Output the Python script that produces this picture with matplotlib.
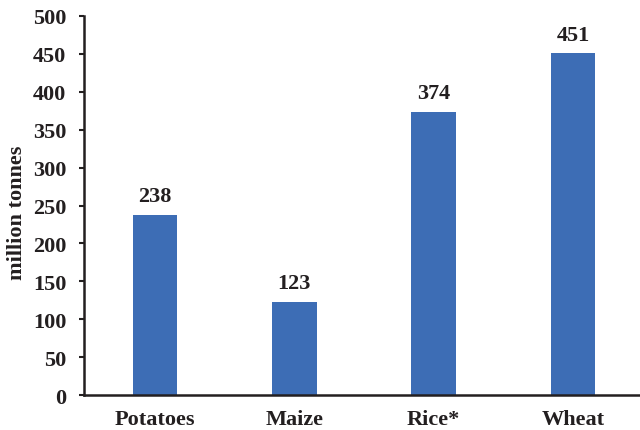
import matplotlib.pyplot as plt

crops = ["Potatoes", "Maize", "Rice*", "Wheat"]
production = [238, 123, 374, 451]
yticks = [0, 50, 100, 150, 200, 250, 300, 350, 400, 450, 500]

plt.rcParams['font.family'] = ['Liberation Serif', 'DejaVu Serif']
plt.rcParams['font.weight'] = 'bold'
dark = "#231f20"

fig = plt.figure(figsize=(6.4, 4.31), dpi=100)
ax = fig.add_axes([0.131, 0.081, 0.869, 0.8796])

x = range(len(crops))
ax.bar(x, production, width=0.32, color="#3d6db5")
for i, v in zip(x, production):
    ax.text(i, v + 11, str(v), ha="center", va="bottom", fontsize=16,
            fontweight="bold", color=dark)

ax.set_xlim(-0.51, 3.48)
ax.set_ylim(0, 500)
ax.set_yticks(yticks)
ax.set_xticks(list(x))
ax.set_xticklabels(crops)
ax.tick_params(axis="x", length=0, pad=10, labelsize=16, colors=dark)
ax.tick_params(axis="y", length=3.6, width=1.5, direction="out", labelsize=16, colors=dark, pad=9)
for lab in ax.get_xticklabels() + ax.get_yticklabels():
    lab.set_fontweight("bold")
ax.set_ylabel("million tonnes", fontsize=16, fontweight="bold", color=dark, labelpad=4)
ax.yaxis.label.set_y(0.484)

ax.spines["top"].set_visible(False)
ax.spines["right"].set_visible(False)
ax.spines["left"].set_linewidth(1.8)
ax.spines["bottom"].set_linewidth(1.8)
ax.spines["left"].set_color(dark)
ax.spines["bottom"].set_color(dark)

fig.savefig("out.png", dpi=100)
